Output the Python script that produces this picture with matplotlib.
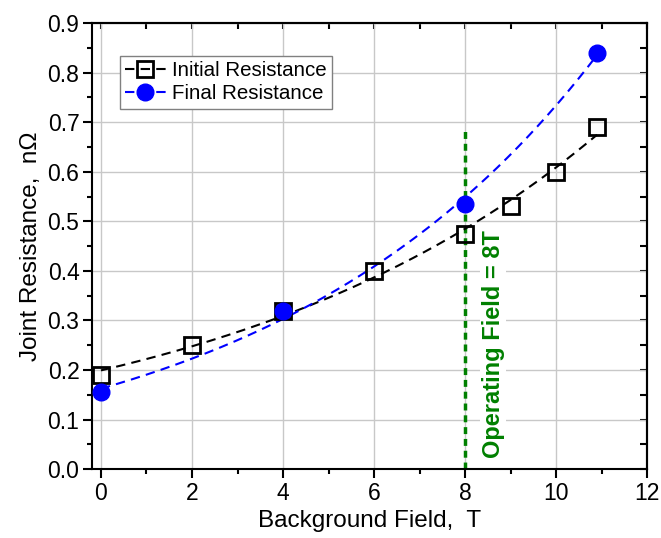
import numpy as np
import matplotlib
matplotlib.use("Agg")
import matplotlib.pyplot as plt

plt.rcParams['font.family'] = ['Liberation Sans', 'DejaVu Sans']

# data
field_init = [0, 2, 4, 6, 8, 9, 10, 10.9]
res_init = [0.19, 0.25, 0.32, 0.40, 0.475, 0.53, 0.60, 0.69]
field_final = [0, 4, 8, 10.9]
res_final = [0.155, 0.32, 0.535, 0.84]
operating_field = 8
operating_top = 0.688


def exp_fit(x, y, xs):
    # y = a + b*exp(c*x): scan c, least squares for a and b
    x = np.asarray(x, float)
    y = np.asarray(y, float)
    best = None
    for c in np.linspace(0.01, 0.5, 500):
        A = np.column_stack([np.ones_like(x), np.exp(c * x)])
        coef, res, *_ = np.linalg.lstsq(A, y, rcond=None)
        err = np.sum((A @ coef - y) ** 2)
        if best is None or err < best[0]:
            best = (err, c, coef)
    _, c, (a, b) = best
    return a + b * np.exp(c * xs)


fig = plt.figure(figsize=(6.61, 5.38), dpi=100)
ax = fig.add_axes([0.139, 0.128, 0.840, 0.829])

# fitted trend lines through each series
xs = np.linspace(min(field_init), max(field_init), 200)
fit_init = exp_fit(field_init, res_init, xs)
fit_final = exp_fit(field_final, res_final, xs)

ax.plot(xs, fit_init, color='black', lw=1.5, dashes=(4.5, 3), zorder=3)
ax.plot(xs, fit_final, color='blue', lw=1.5, dashes=(4.5, 3), zorder=3)

ax.plot(field_init, res_init, ls='none', marker='s', ms=11, mfc='none',
        mec='black', mew=2, zorder=4)
ax.plot(field_final, res_final, ls='none', marker='o', ms=12, mfc='blue',
        mec='blue', zorder=4)

# legend proxies (line + marker)
h1, = ax.plot([], [], color='black', lw=1.5, dashes=(4.5, 3), marker='s', ms=11,
              mfc='none', mec='black', mew=2)
h2, = ax.plot([], [], color='blue', lw=1.5, dashes=(4.5, 3), marker='o', ms=12,
              mfc='blue', mec='blue')
leg = ax.legend([h1, h2], ['Initial Resistance', 'Final Resistance'],
                loc='upper left', bbox_to_anchor=(0.05, 0.926), borderaxespad=0,
                fontsize=14.8, fancybox=False, framealpha=1, edgecolor='#808080',
                handlelength=2.0, handletextpad=0.3, borderpad=0.25, labelspacing=0.2)
leg.get_frame().set_linewidth(1.0)

# operating field marker
ax.plot([operating_field, operating_field], [0, operating_top], color='green',
        lw=2.5, dashes=(2, 1.4), zorder=2)
ax.text(8.62, 0.022, 'Operating Field = 8T', rotation=90, color='green',
        fontsize=17, fontweight='bold', ha='center', va='bottom',
        bbox=dict(facecolor='white', edgecolor='none', pad=1), zorder=2)

ax.set_xlim(-0.2, 12)
ax.set_ylim(0, 0.9)
ax.set_xticks(np.arange(0, 13, 2))
ax.set_yticks(np.arange(0, 0.91, 0.1))
ax.set_xticks(np.arange(0, 12.1, 1), minor=True)
ax.set_yticks(np.arange(0, 0.91, 0.05), minor=True)
ax.set_yticklabels([f'{v:.1f}' for v in np.arange(0, 0.91, 0.1)])
ax.grid(True, which='major', color='#c8c8c8', lw=1.0, zorder=0)
ax.set_axisbelow(True)

ax.tick_params(which='major', direction='out', length=6.5, width=1.5, labelsize=16.5, pad=2.5)
ax.tick_params(which='minor', direction='out', length=3.5, width=1.5)
for s in ax.spines.values():
    s.set_linewidth(1.5)

# top and right axes with inward ticks, no labels
top = ax.secondary_xaxis('top')
top.set_xticks(np.arange(0, 13, 2))
top.set_xticks(np.arange(0, 12.1, 1), minor=True)
top.tick_params(which='both', direction='in', length=4, width=1.5, labeltop=False)
right = ax.secondary_yaxis('right')
right.set_yticks(np.arange(0, 0.91, 0.1))
right.set_yticks(np.arange(0, 0.91, 0.05), minor=True)
right.tick_params(which='both', direction='in', length=5, width=1.5, labelright=False)
top.spines['top'].set_linewidth(1.5)
right.spines['right'].set_linewidth(1.5)

ax.set_xlabel('Background Field,  T', fontsize=17.5, labelpad=4)
ax.set_ylabel('Joint Resistance,  n\u03a9', fontsize=17.5, labelpad=4)

fig.savefig('out.png', dpi=100)
